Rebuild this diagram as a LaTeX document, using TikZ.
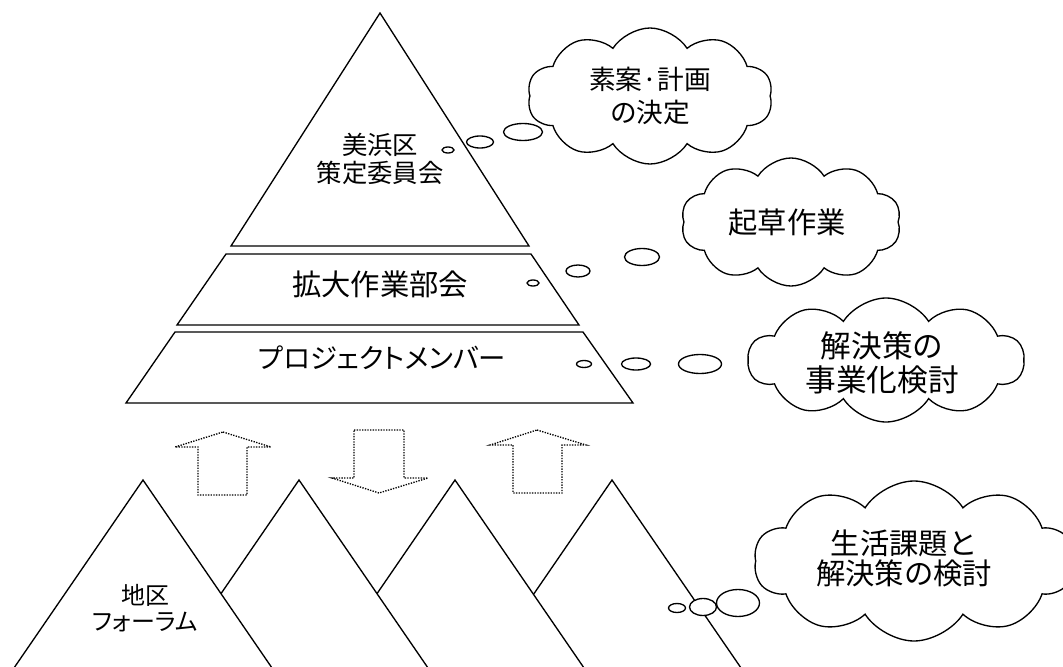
\documentclass[tikz,border=0pt]{standalone}
\usepackage{fontspec}
\newfontfamily\jp{Noto Sans CJK JP}
\newfontfamily\jpp[RawFeature=+palt]{Noto Sans CJK JP}
\usetikzlibrary{shapes.symbols}
\tikzset{
  outline/.style={draw=black, line width=1pt, fill=white, line join=miter},
  arrowbox/.style={draw=black, line width=1pt, densely dotted},
  cloudbox/.style={cloud, draw=black, line width=1pt, fill=white, cloud puffs=10, cloud puff arc=115, cloud ignores aspect, inner sep=0pt},
  bubble/.style={draw=black, line width=1pt, fill=white},
  lbl/.style={inner sep=0pt, align=center, text=black},
}
\begin{document}
\begin{tikzpicture}[x=0.75pt,y=-0.75pt]
\useasboundingbox (0,0) rectangle (1063,667);
\clip (0,0) rectangle (1063,667);
\fill[white] (0,0) rectangle (1063,667);

% top pyramid
\draw[outline] (380,13) -- (529,246) -- (231,246) -- cycle;
\draw[outline] (226,254) -- (531,254) -- (579,325) -- (177,325) -- cycle;
\draw[outline] (175,332) -- (583,332) -- (633,403) -- (126,403) -- cycle;
\node[lbl, font=\jp\fontsize{19pt}{21pt}\selectfont] (committee) at (380,159) {美浜区\\策定委員会};
\node[lbl, font=\jp\fontsize{22pt}{26pt}\selectfont] (workgroup) at (380,284) {拡大作業部会};
\node[lbl, font=\jpp\fontsize{20.5pt}{26pt}\selectfont] (members) at (382,358) {プロジェクトメンバー};

% arrows
\draw[arrowbox] (223,432) -- (271,447) -- (247,447) -- (247,495) -- (198,495) -- (198,447) -- (175,447) -- cycle;
\draw[arrowbox] (354,430) -- (404,430) -- (404,478) -- (428,478) -- (379,493) -- (332,478) -- (354,478) -- cycle;
\draw[arrowbox] (537,430) -- (586,445) -- (562,445) -- (562,493) -- (513,493) -- (513,445) -- (490,445) -- cycle;

% mountains (back to front)
\draw[outline] (612,480) -- (763,700) -- (461,700) -- cycle;
\draw[outline] (455,480) -- (606,700) -- (304,700) -- cycle;
\draw[outline] (299,480) -- (450,700) -- (148,700) -- cycle;
\draw[outline] (143,480) -- (294,700) -- (-8,700) -- cycle;
\node[lbl, font=\jpp\fontsize{18pt}{20pt}\selectfont] (forum) at (145,608) {地区\\フォーラム};

% cloud 1
\node[cloudbox, minimum width=184pt, minimum height=102pt] (c1) at (650,96) {};
\node[lbl, font=\jp\fontsize{20pt}{25pt}\selectfont] (c1t) at (c1.center) {素案·計画\\の決定};
\draw[bubble] (448,150) ellipse (6 and 3);
\draw[bubble] (480,142) ellipse (13.5 and 6);
\draw[bubble] (523,132) ellipse (19.5 and 8.5);

% cloud 2
\node[cloudbox, minimum width=165pt, minimum height=96pt] (c2) at (791,222) {};
\node[lbl, font=\jp\fontsize{22pt}{26pt}\selectfont] (c2t) at (787,222) {起草作業};
\draw[bubble] (533,283) ellipse (6 and 3);
\draw[bubble] (578,271) ellipse (12 and 6);
\draw[bubble] (642,257) ellipse (17.5 and 8.5);

% cloud 3
\node[cloudbox, minimum width=207pt, minimum height=93pt] (c3) at (886,360) {};
\node[lbl, font=\jp\fontsize{23pt}{25pt}\selectfont] (c3t) at (882,363) {解決策の\\事業化検討};
\draw[bubble] (584,364) ellipse (7.5 and 3.5);
\draw[bubble] (636,364) ellipse (14.5 and 6);
\draw[bubble] (700,364) ellipse (21.5 and 9.5);

% cloud 4
\node[cloudbox, minimum width=240pt, minimum height=120pt] (c4) at (914,561) {};
\node[lbl, font=\jp\fontsize{22pt}{22.5pt}\selectfont] (c4t) at (904,558) {生活課題と\\解決策の検討};
\draw[bubble] (738,603) ellipse (21.5 and 13.5);
\draw[bubble] (703,607) ellipse (13.5 and 8.5);
\draw[bubble] (677,608) ellipse (8.5 and 4.5);
\end{tikzpicture}
\end{document}
